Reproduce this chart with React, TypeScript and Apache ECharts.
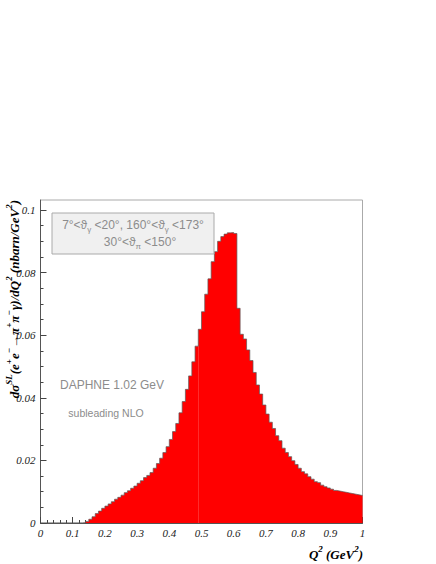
import React, { useEffect, useRef } from 'react';
import * as echarts from 'echarts';

// Histogram: 100 bins of width 0.01 on Q^2 in [0, 1] (GeV^2)
const binWidth = 0.01;
const binValues = [
  0, 0, 0, 0, 0, 0, 0, 0, 0, 0,
  0, 0, 0, 0.0001, 0.0005, 0.0012, 0.002, 0.003, 0.0038, 0.0047,
  0.0054, 0.0061, 0.0068, 0.0076, 0.0082, 0.0089, 0.0097, 0.0103, 0.0111, 0.0118,
  0.0127, 0.0135, 0.0145, 0.0152, 0.0161, 0.0175, 0.019, 0.0207, 0.0225, 0.0244,
  0.0267, 0.0292, 0.0318, 0.0352, 0.0388, 0.0427, 0.047, 0.0515, 0.0565, 0.0619,
  0.0675, 0.0731, 0.078, 0.0835, 0.0867, 0.09, 0.0915, 0.0923, 0.0927, 0.0928,
  0.0925, 0.0686, 0.0603, 0.0588, 0.0553, 0.0519, 0.0481, 0.0441, 0.0412, 0.0377,
  0.0348, 0.0322, 0.0302, 0.0279, 0.0263, 0.0239, 0.0225, 0.0212, 0.0199, 0.0187,
  0.0175, 0.0164, 0.0157, 0.0148, 0.014, 0.0132, 0.0129, 0.0121, 0.0116, 0.0112,
  0.0108, 0.0104, 0.0102, 0.01, 0.0098, 0.0096, 0.0094, 0.0092, 0.009, 0.0088,
];
// faint seam visible inside the filled histogram
const seamX = 0.49;
const seamTop = 0.0565;

const xMin = 0;
const xMax = 1;
const xInterval = 0.1;
const yMin = 0;
const yMax = 0.1032;
const yMajorTicks = [0, 0.02, 0.04, 0.06, 0.08, 0.1];
const yMinorTicks = [
  0.005, 0.01, 0.015, 0.025, 0.03, 0.035, 0.045, 0.05, 0.055,
  0.065, 0.07, 0.075, 0.085, 0.09, 0.095,
];

const legendLine1 = '7°<ϑ{sub|γ} <20°, 160°<ϑ{sub|γ} <173°';
const legendLine2 = '30°<ϑ{sub|π} <150°';
const noteLine1 = 'DAPHNE 1.02 GeV';
const noteLine2 = 'subleading NLO';
const yTitle = 'dσ{sup|SL}(e{sup|+}e{sup|−}→π{sup|+}π{sup|−}γ)/dQ{sup|2} (nbarn/GeV{sup|2})';
const xTitle = 'Q{sup|2} (GeV{sup|2})';

const serif = '"Liberation Serif", "Times New Roman", serif';
const sans = '"Liberation Sans", Arial, Helvetica, sans-serif';

export default function App() {
  const ref = useRef<HTMLDivElement>(null);

  useEffect(() => {
    if (!ref.current) return;
    const chart = echarts.init(ref.current, undefined, { renderer: 'svg' });

    const stepData: number[][] = binValues.map((v, i) => [i * binWidth, v]);
    stepData.push([binValues.length * binWidth, binValues[binValues.length - 1]]);

    const labelStyle = {
      fontFamily: serif,
      fontStyle: 'italic' as const,
      fontSize: 11,
      color: '#222',
    };

    const legendStyle = (text: string, x: number, y: number) => ({
      type: 'text',
      z: 101,
      x,
      y,
      style: {
        text,
        fontFamily: sans,
        fontSize: 12,
        fill: '#8c8c8c',
        align: 'center',
        verticalAlign: 'middle',
        lineHeight: 16,
        rich: { sub: { fontFamily: sans, fontSize: 8, fill: '#8c8c8c', verticalAlign: 'bottom' } },
      },
    });

    chart.setOption({
      animation: false,
      backgroundColor: '#ffffff',
      grid: {
        left: 40.5,
        right: 73.5,
        top: 200,
        bottom: 41,
        show: true,
        borderColor: '#aaaaaa',
        borderWidth: 1,
        backgroundColor: 'transparent',
      },
      xAxis: {
        type: 'value',
        min: xMin,
        max: xMax,
        interval: xInterval,
        axisLine: { show: true, onZero: false, lineStyle: { color: '#555', width: 1 } },
        axisTick: { show: true, inside: true, length: 6, lineStyle: { color: '#444' } },
        minorTick: { show: true, splitNumber: 5, length: 3, lineStyle: { color: '#444' } },
        axisLabel: { ...labelStyle, margin: 4 },
        splitLine: { show: false },
      },
      yAxis: [
        {
          type: 'value',
          min: yMin,
          max: yMax,
          axisLine: { show: true, onZero: false, lineStyle: { color: '#555', width: 1 } },
          axisTick: { show: true, inside: true, length: 6, customValues: yMajorTicks, lineStyle: { color: '#444' } },
          axisLabel: { ...labelStyle, margin: 5, customValues: yMajorTicks },
          splitLine: { show: false },
        },
        {
          type: 'value',
          min: yMin,
          max: yMax,
          position: 'left',
          axisLine: { show: false },
          axisTick: { show: true, inside: true, length: 3, customValues: yMinorTicks, lineStyle: { color: '#444' } },
          axisLabel: { show: false },
          splitLine: { show: false },
        },
      ],
      series: [
        {
          type: 'line',
          step: 'end',
          data: stepData,
          xAxisIndex: 0,
          yAxisIndex: 0,
          symbol: 'none',
          lineStyle: { color: '#5a5a5a', width: 0.7 },
          areaStyle: { color: '#ff0000', opacity: 1 },
          z: 2,
          markLine: {
            silent: true,
            symbol: ['none', 'none'],
            label: { show: false },
            lineStyle: { color: '#ff4a4a', width: 0.6, type: 'solid' },
            data: [[{ coord: [seamX, 0] }, { coord: [seamX, seamTop] }]],
          },
        },
      ],
      graphic: [
        {
          type: 'rect',
          z: 100,
          shape: { x: 52, y: 213, width: 162, height: 41 },
          style: { fill: '#f0f0f0', stroke: '#aaaaaa', lineWidth: 1 },
        },
        legendStyle(legendLine1, 133, 225),
        legendStyle(legendLine2, 140, 242),
        {
          type: 'text',
          z: 101,
          x: 112,
          y: 385,
          style: {
            text: noteLine1,
            fontFamily: sans,
            fontSize: 12,
            fill: '#8c8c8c',
            align: 'center',
            verticalAlign: 'middle',
          },
        },
        {
          type: 'text',
          z: 101,
          x: 106,
          y: 413,
          style: {
            text: noteLine2,
            fontFamily: sans,
            fontSize: 10.5,
            fill: '#8c8c8c',
            align: 'center',
            verticalAlign: 'middle',
          },
        },
        {
          type: 'text',
          z: 101,
          x: 14,
          y: 200,
          rotation: Math.PI / 2,
          style: {
            text: yTitle,
            fontFamily: serif,
            fontStyle: 'italic',
            fontWeight: 'bold',
            fontSize: 13,
            fill: '#000000',
            align: 'right',
            verticalAlign: 'middle',
            lineHeight: 20,
            rich: {
              sup: { fontFamily: serif, fontStyle: 'italic', fontWeight: 'bold', fontSize: 9, fill: '#000', verticalAlign: 'top' },
            },
          },
        },
        {
          type: 'text',
          z: 101,
          x: 363,
          y: 554,
          style: {
            text: xTitle,
            fontFamily: serif,
            fontStyle: 'italic',
            fontWeight: 'bold',
            fontSize: 13,
            fill: '#000000',
            align: 'right',
            verticalAlign: 'middle',
            lineHeight: 20,
            rich: {
              sup: { fontFamily: serif, fontStyle: 'italic', fontWeight: 'bold', fontSize: 9, fill: '#000', verticalAlign: 'top' },
            },
          },
        },
      ],
    });

    return () => {
      chart.dispose();
    };
  }, []);

  return (
    <div
      ref={ref}
      style={{ position: 'absolute', left: 0, top: 0, width: 436, height: 564 }}
    />
  );
}
